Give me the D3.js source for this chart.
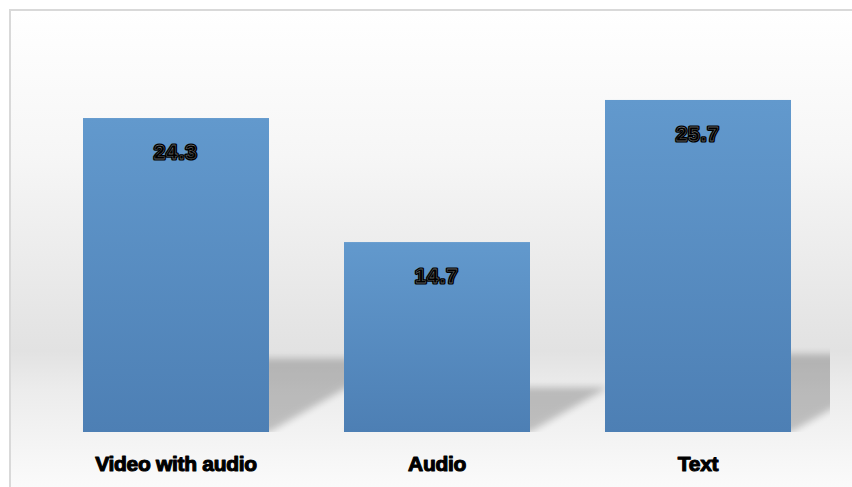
<!DOCTYPE html>
<html><head><meta charset="utf-8">
<script src="https://cdn.jsdelivr.net/npm/d3@7"></script>
<style>html,body{margin:0;padding:0;background:#fff;overflow:hidden}</style>
</head><body>
<svg id="chart" width="852" height="487"></svg>
<script>
const categories = ["Video with audio", "Audio", "Text"];
const values = [24.3, 14.7, 25.7];
const yDomain = [0, 30];

const svg = d3.select("#chart");
const W = 852, H = 487;
const plot = {left: 45.5, right: 828.5, top: 44.4, bottom: 432};

const defs = svg.append("defs");
const bg = defs.append("linearGradient").attr("id","bg").attr("x1",0).attr("y1",0).attr("x2",0).attr("y2",1);
bg.append("stop").attr("offset","0%").attr("stop-color","#ffffff");
bg.append("stop").attr("offset","30%").attr("stop-color","#f6f6f6");
bg.append("stop").attr("offset","70%").attr("stop-color","#e2e2e2");
bg.append("stop").attr("offset","78%").attr("stop-color","#ececec");
bg.append("stop").attr("offset","100%").attr("stop-color","#fcfcfc");

const barG = defs.append("linearGradient").attr("id","barg").attr("x1",0).attr("y1",0).attr("x2",0).attr("y2",1);
barG.append("stop").attr("offset","0%").attr("stop-color","#6299cd");
barG.append("stop").attr("offset","100%").attr("stop-color","#4d7fb4");

const blur = defs.append("filter").attr("id","blur").attr("x","-20%").attr("y","-20%").attr("width","140%").attr("height","140%");
blur.append("feGaussianBlur").attr("stdDeviation", 3.5);

defs.append("clipPath").attr("id","plotclip").append("rect")
  .attr("x", plot.left).attr("y", 0).attr("width", 830 - plot.left).attr("height", plot.bottom);

svg.append("rect").attr("x",10).attr("y",10).attr("width",W).attr("height",H)
  .attr("fill","url(#bg)").attr("stroke","#d9d9d9").attr("stroke-width",2);

const x = d3.scaleBand().domain(categories).range([plot.left, plot.right])
  .paddingInner(0.2874).paddingOuter(0.1437);
const y = d3.scaleLinear().domain(yDomain).range([plot.bottom, plot.top]);

// perspective shadows
const shadowG = svg.append("g").attr("clip-path","url(#plotclip)");
shadowG.selectAll("path").data(categories).join("path")
  .attr("d", (c,i) => {
    const x0 = x(c), x1 = x(c) + x.bandwidth();
    const h = (y(0) - y(values[i])) * 0.235;
    const dx = h * 1.75;
    const b = y(0);
    return `M${x0},${b}L${x1},${b}L${x1+dx},${b-h}L${x0+dx},${b-h}Z`;
  })
  .attr("fill","#000").attr("opacity",0.21).attr("filter","url(#blur)");

svg.append("g").selectAll("rect").data(categories).join("rect")
  .attr("x", c => x(c)).attr("width", x.bandwidth())
  .attr("y", (c,i) => y(values[i])).attr("height", (c,i) => y(0) - y(values[i]))
  .attr("fill","url(#barg)");

// data labels
const lab = svg.append("g").attr("font-family","'Liberation Sans', Arial, sans-serif")
  .attr("font-weight","bold").attr("font-size","20px").attr("text-anchor","middle")
  .attr("letter-spacing","1.3px");
lab.selectAll("text.halo").data(categories).join("text").attr("class","halo")
  .attr("x", c => x(c) + x.bandwidth()/2).attr("y", (c,i) => y(values[i]) + 41)
  .attr("fill","#000").attr("stroke","#000").attr("stroke-width",3.2).attr("stroke-linejoin","round")
  .text((c,i) => d3.format(".1f")(values[i]));
lab.selectAll("text.fg").data(categories).join("text").attr("class","fg")
  .attr("x", c => x(c) + x.bandwidth()/2).attr("y", (c,i) => y(values[i]) + 41)
  .attr("fill","#000").attr("stroke","#aaa").attr("stroke-width",0.3)
  .text((c,i) => d3.format(".1f")(values[i]));

// category axis
const axis = svg.append("g").attr("transform", `translate(0,${plot.bottom})`)
  .call(d3.axisBottom(x).tickSize(0).tickPadding(0));
axis.select(".domain").remove();
axis.selectAll("text")
  .attr("dy", null).attr("y", 39)
  .attr("font-family","'Liberation Sans', Arial, sans-serif")
  .attr("font-weight","bold").attr("font-size","21px").attr("fill","#000")
  .attr("stroke","#000").attr("stroke-width",1.1).attr("stroke-linejoin","round").attr("letter-spacing","-0.3px");
</script>
</body></html>
